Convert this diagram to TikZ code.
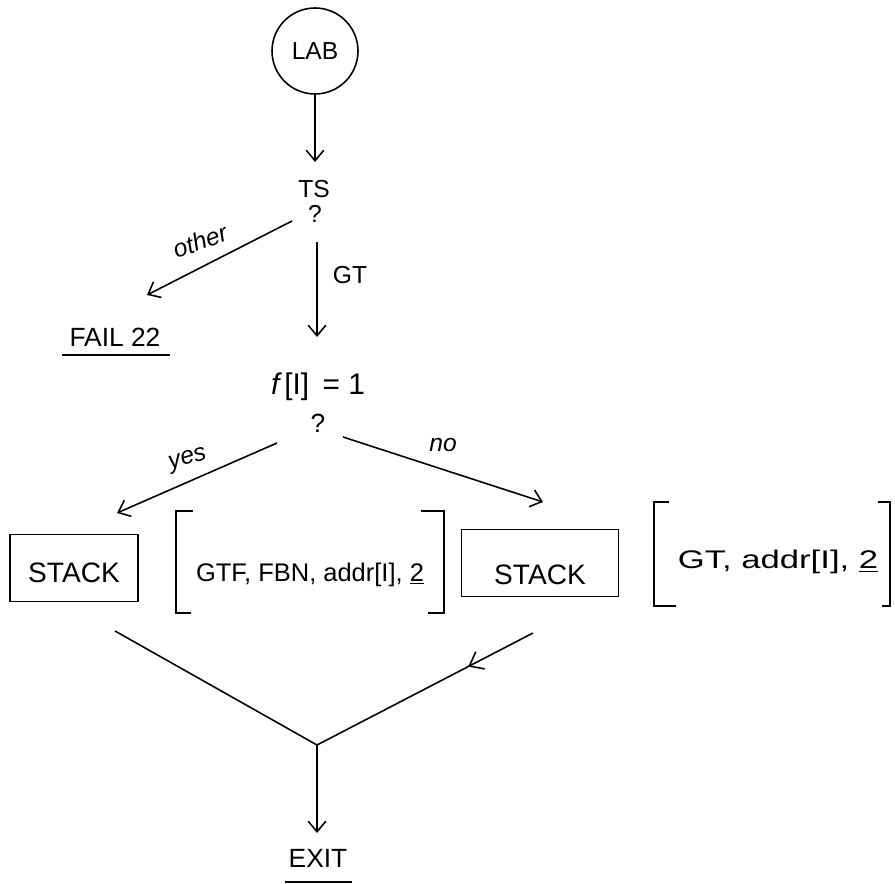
\documentclass[tikz,border=0pt]{standalone}
\usepackage{fontspec}
\setmainfont{Liberation Sans}
\usetikzlibrary{arrows.meta,calc,decorations.markings}
\begin{document}
\begin{tikzpicture}[x=0.02cm,y=-0.02cm, line width=0.9pt,
  arr/.style={-{Straight Barb[length=6pt,width=10pt]}},
  txt/.style={inner sep=0pt, font=\fontsize{14}{16}\selectfont},
  lbl/.style={inner sep=0pt, font=\itshape\fontsize{14}{16}\selectfont},
  circ/.style={draw, circle, minimum size=1.72cm, inner sep=0pt, font=\fontsize{14}{16}\selectfont},
  box/.style={draw, rectangle, inner sep=0pt, font=\fontsize{16}{18}\selectfont},
  brk/.style={inner sep=0pt, font=\fontsize{14.5}{16}\selectfont},
  midarr/.style={postaction={decorate}, decoration={markings, mark=at position #1 with {\arrow{Straight Barb[length=7pt,width=11pt]}}}}
]
\useasboundingbox (0,0) rectangle (895,884);

% nodes
\node[circ] (lab) at (315,51) {LAB};
\node[txt] (ts) at (314,189) {TS};
\node[txt] (q1) at (315,214) {?};
\node[txt, font=\fontsize{15}{17}\selectfont] (fail) at (115,337) {FAIL 22};
\node[txt] (gt) at (350,275) {GT};
\node[lbl, rotate=20] (other) at (200,241) {other};
\node[txt, font=\fontsize{17}{19}\selectfont] (cond) at (318,387) {{\itshape f}\,[I]\, = 1};
\node[txt, font=\fontsize{15}{17}\selectfont] (q2) at (318,423) {?};
\node[lbl, rotate=16] (yes) at (188,460) {yes};
\node[lbl] (no) at (443,445) {no};
\node[box, minimum width=2.56cm, minimum height=1.34cm] (stack1) at (74,568) {\raisebox{-8.5pt}[0pt][0pt]{STACK}};
\node[brk, minimum width=5.32cm, minimum height=2cm] (br1) at (310,562) {\raisebox{-11pt}[0pt][0pt]{GTF, FBN, addr[I], \underline{2}}};
\node[box, minimum width=3.14cm, minimum height=1.34cm] (stack2) at (540,563) {\raisebox{-12.5pt}[0pt][0pt]{STACK}};
\node[brk, minimum width=4.7cm, minimum height=2.04cm] (br2) at (772,554) {\hspace*{0.24cm}\raisebox{-8.5pt}[0pt][0pt]{\scalebox{1.36}[1]{GT, addr[I], \underline{2}}}};
\node[txt, font=\fontsize{15}{17}\selectfont] (exit) at (318,858) {EXIT};
\coordinate (J) at (317,745);
\coordinate (L) at (115,631);
\coordinate (R) at (533,633);

% connectors
\draw[arr] (lab.south) -- ($(ts.center)+(1,-27)$);
\draw[arr] ($(q1.center)+(-23,7)$) -- ($(fail.center)+(32,-42)$);
\draw[arr] ($(q1.center)+(2,28)$) -- ($(cond.center)+(-1,-50)$);
\draw[arr] ($(q2.center)+(-41,20)$) -- ($(stack1.center)+(43,-55)$);
\draw[arr] ($(q2.center)+(25,14)$) -- ($(stack2.center)+(3,-61)$);
\draw (L) -- (J);
\draw[midarr=0.3] (R) -- (J);
\draw[arr] (J) -- ($(exit.center)+(-1,-25)$);

% underlines
\draw ($(fail.center)+(-53,18)$) -- ($(fail.center)+(55,18)$);
\draw ($(exit.center)+(-33,24)$) -- ($(exit.center)+(34,24)$);

% brackets
\draw ($(br1.north west)+(17,0)$) -- (br1.north west) -- (br1.south west) -- ++(15,0);
\draw ($(br1.north east)+(-23,0)$) -- (br1.north east) -- (br1.south east) -- ++(-16,0);
\draw ($(br2.north west)+(15,0)$) -- (br2.north west) -- (br2.south west) -- ++(22,0);
\draw ($(br2.north east)+(-12,0)$) -- (br2.north east) -- (br2.south east) -- ++(-8,0);
\end{tikzpicture}
\end{document}
